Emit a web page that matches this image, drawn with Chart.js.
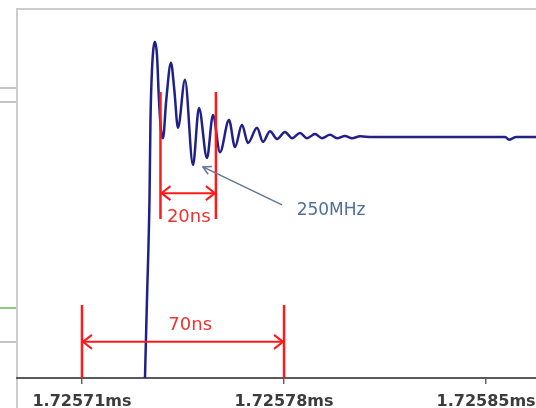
<!DOCTYPE html>
<html>
<head>
<meta charset="utf-8">
<script src="https://cdn.jsdelivr.net/npm/chart.js@4.4.0/dist/chart.umd.min.js"></script>
<style>
  html, body { margin: 0; padding: 0; background: #fff; overflow: hidden; }
  #wrap { width: 536px; height: 408px; overflow: hidden; }
</style>
</head>
<body>
<div id="wrap"><canvas id="scope" width="560" height="426"></canvas></div>
<script>
// time in ns, counted from 1.72571ms
const timeNs = [
  -25, 21.6, 21.83, 22.52, 23.39, 23.74, 24.26, 25.3, 25.99, 26.68, 27.37, 28.07,
  29.2, 30.84, 32.0, 33.26, 35.69, 38.46, 40.54, 43.31, 45.39, 47.82, 50.94,
  53.01, 55.44, 57.52, 60.64, 62.72, 65.14, 67.57, 70.34, 72.77, 75.54, 77.96,
  80.73, 83.16, 85.93, 88.36, 91.13, 93.56, 96.33, 100.5, 146.6, 148.0, 149.3,
  150.4, 170
];
// probe signal, arbitrary units (axis 0..100)
const signal = [
  -8, -8, 0, 21.1, 48.2, 69.9, 83.5, 91.1, 87.5, 75.3, 67.2, 65.0,
  75.3, 85.4, 78.0, 67.8, 80.8, 57.7, 73.2, 59.6, 71.3, 61.2, 69.9,
  62.6, 68.6, 63.7, 67.8, 64.0, 66.9, 64.8, 66.7, 65.0, 66.4, 65.0,
  66.1, 65.0, 65.9, 65.0, 65.6, 65.0, 65.5, 65.3, 65.3, 64.6, 65.0,
  65.3, 65.3
];
const tickNs = [0, 70, 140];
const tickLabels = ["1.72571ms", "1.72578ms", "1.72585ms"];

// medidas em vermelho (intervalos de tempo)
const spans = [
  { from: 0, to: 70, top: 19.8, bottom: 0, arrowY: 9.8, labelX: 37.5, labelY: 14.4, text: "70ns" },
  { from: 27.2, to: 46.4, top: 77.5, bottom: 43.1, arrowY: 50.1, labelX: 37.0, labelY: 43.6, text: "20ns" },
];
// seta da frequencia
const freqNote = { tipX: 41.9, tipY: 57.2, tailX: 69.3, tailY: 46.9, labelX: 86.3, labelY: 45.5, text: "250MHz" };

function chevron(ctx, x, y, dir) {
  ctx.beginPath();
  ctx.moveTo(x + dir * 9, y - 7);
  ctx.lineTo(x, y);
  ctx.lineTo(x + dir * 9, y + 7);
  ctx.stroke();
}

const framePlugin = {
  id: "frame",
  beforeDraw(chart) {
    const { ctx, chartArea } = chart;
    ctx.save();
    // restos do painel vizinho a esquerda
    ctx.lineWidth = 2;
    ctx.strokeStyle = "#c4c4c4";
    [88, 102, 342].forEach((y) => {
      ctx.beginPath(); ctx.moveTo(0, y); ctx.lineTo(chartArea.left - 1, y); ctx.stroke();
    });
    ctx.strokeStyle = "#5cb85c";
    ctx.lineWidth = 1.5;
    ctx.beginPath(); ctx.moveTo(0, 308); ctx.lineTo(chartArea.left - 1, 308); ctx.stroke();
    // borda superior e esquerda
    ctx.strokeStyle = "#cdcdcd";
    ctx.lineWidth = 2;
    ctx.beginPath();
    ctx.moveTo(chartArea.right, chartArea.top);
    ctx.lineTo(chartArea.left, chartArea.top);
    ctx.lineTo(chartArea.left, chart.height);
    ctx.stroke();
    ctx.restore();
  },
  afterDatasetsDraw(chart) {
    const { ctx } = chart;
    const xs = chart.scales.x, ys = chart.scales.y;
    ctx.save();
    spans.forEach((s) => {
      const x1 = xs.getPixelForValue(s.from), x2 = xs.getPixelForValue(s.to);
      const yTop = ys.getPixelForValue(s.top), yBot = ys.getPixelForValue(s.bottom);
      const yArr = ys.getPixelForValue(s.arrowY);
      ctx.strokeStyle = "#ff1a1a";
      ctx.lineWidth = 2.5;
      ctx.beginPath();
      ctx.moveTo(x1, yTop); ctx.lineTo(x1, yBot);
      ctx.moveTo(x2, yTop); ctx.lineTo(x2, yBot);
      ctx.stroke();
      ctx.lineWidth = 2;
      ctx.beginPath(); ctx.moveTo(x1, yArr); ctx.lineTo(x2, yArr); ctx.stroke();
      chevron(ctx, x1 + 1, yArr, 1);
      chevron(ctx, x2 - 1, yArr, -1);
      ctx.fillStyle = "#ee3333";
      ctx.font = "18px 'DejaVu Sans'";
      ctx.textAlign = "center";
      ctx.textBaseline = "middle";
      ctx.fillText(s.text, xs.getPixelForValue(s.labelX), ys.getPixelForValue(s.labelY));
    });
    const tx = xs.getPixelForValue(freqNote.tipX), ty = ys.getPixelForValue(freqNote.tipY);
    const lx = xs.getPixelForValue(freqNote.tailX), ly = ys.getPixelForValue(freqNote.tailY);
    ctx.strokeStyle = "#5f7896";
    ctx.lineWidth = 1.5;
    ctx.beginPath(); ctx.moveTo(tx, ty); ctx.lineTo(lx, ly); ctx.stroke();
    const ang = Math.atan2(ly - ty, lx - tx);
    ctx.beginPath();
    ctx.moveTo(tx + 9 * Math.cos(ang - 0.5), ty + 9 * Math.sin(ang - 0.5));
    ctx.lineTo(tx, ty);
    ctx.lineTo(tx + 9 * Math.cos(ang + 0.5), ty + 9 * Math.sin(ang + 0.5));
    ctx.stroke();
    ctx.fillStyle = "#4f6f9c";
    ctx.font = "17px 'DejaVu Sans'";
    ctx.textAlign = "center";
    ctx.textBaseline = "middle";
    ctx.fillText(freqNote.text, xs.getPixelForValue(freqNote.labelX), ys.getPixelForValue(freqNote.labelY));
    ctx.restore();
  },
};

const ctx = document.getElementById("scope").getContext("2d");
new Chart(ctx, {
  type: "line",
  data: {
    datasets: [
      {
        label: "Sonda",
        data: timeNs.map((t, i) => ({ x: t, y: signal[i] })),
        borderColor: "#20208a",
        borderWidth: 2.5,
        pointRadius: 0,
        cubicInterpolationMode: "monotone",
        fill: false,
      },
    ],
  },
  options: {
    responsive: false,
    animation: false,
    layout: { padding: { left: 17, top: 9, right: 0, bottom: 6.8 } },
    plugins: {
      legend: { display: false },
      tooltip: { enabled: false },
    },
    scales: {
      x: {
        type: "linear",
        min: -22.5,
        max: 165.6,
        afterBuildTicks: (scale) => {
          scale.ticks = tickNs.map((v) => ({ value: v }));
        },
        ticks: {
          callback: (v) => tickLabels[tickNs.indexOf(v)],
          font: { family: "DejaVu Sans", size: 16, weight: "bold" },
          color: "#3c3c3c",
          maxRotation: 0,
          autoSkip: false,
          padding: 8,
        },
        grid: { drawOnChartArea: false, tickLength: 6, color: "#666", lineWidth: 1.5 },
        border: { color: "#5a5a5a", width: 2 },
      },
      y: {
        display: false,
        min: 0,
        max: 100,
      },
    },
  },
  plugins: [framePlugin],
});
</script>
</body>
</html>
